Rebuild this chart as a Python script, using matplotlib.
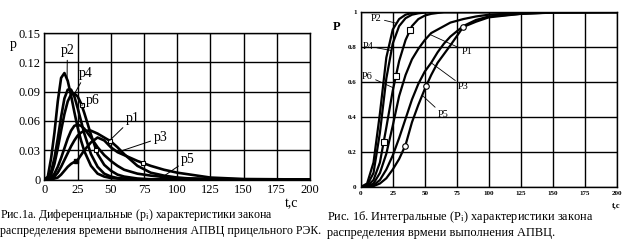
import numpy as np
import matplotlib
matplotlib.use("Agg")
import matplotlib.pyplot as plt

plt.rcParams['font.family'] = ['Liberation Serif', 'DejaVu Serif']
plt.rcParams['mathtext.fontset'] = 'stix'

# ---- left panel: differential characteristics p_i(t) ----
t_d = [0, 2.5, 5, 7.5, 10, 12.5, 15, 17.5, 20, 22.5, 25, 27.5, 30, 35, 40, 45,
       50, 55, 60, 70, 80, 90, 100, 110, 125, 150, 200]
p2 = [0, 0.003, 0.022, 0.048, 0.080, 0.104, 0.109, 0.101, 0.086, 0.069, 0.053, 0.040,
      0.029, 0.014, 0.006, 0.003, 0.0015, 0.001, 0.0005, 0.0002, 0, 0, 0, 0, 0, 0, 0]
p4 = [0, 0.001, 0.008, 0.022, 0.042, 0.064, 0.083, 0.092, 0.092, 0.085, 0.073, 0.060,
      0.047, 0.026, 0.013, 0.006, 0.003, 0.0015, 0.001, 0.0003, 0, 0, 0, 0, 0, 0, 0]
p6 = [0, 0.0005, 0.005, 0.016, 0.032, 0.050, 0.067, 0.080, 0.087, 0.088, 0.085, 0.078,
      0.068, 0.046, 0.026, 0.015, 0.009, 0.005, 0.003, 0.001, 0.0003, 0, 0, 0, 0, 0, 0]
p1 = [0, 0, 0.001, 0.003, 0.007, 0.013, 0.020, 0.027, 0.034, 0.040, 0.045, 0.048,
      0.050, 0.050, 0.047, 0.043, 0.039, 0.033, 0.026, 0.014, 0.007, 0.004, 0.002,
      0.001, 0.0005, 0.0001, 0]
p3 = [0, 0, 0, 0.001, 0.002, 0.005, 0.009, 0.013, 0.016, 0.018, 0.020, 0.025,
      0.030, 0.038, 0.043, 0.040, 0.033, 0.028, 0.025, 0.019, 0.014, 0.010, 0.007,
      0.005, 0.002, 0.0005, 0]
p5 = [0, 0, 0.002, 0.006, 0.013, 0.022, 0.032, 0.042, 0.050, 0.055, 0.056, 0.055,
      0.052, 0.043, 0.033, 0.025, 0.019, 0.014, 0.010, 0.006, 0.004, 0.0025, 0.0015,
      0.001, 0.0005, 0.0002, 0]

# ---- right panel: integral characteristics P_i(t) ----
t_i = [0, 5, 10, 15, 20, 25, 30, 35, 40, 45, 50, 55, 60, 65, 70, 80, 90, 100, 125, 150, 200]
P2 = [0, 0.02, 0.14, 0.42, 0.74, 0.90, 0.96, 0.985, 0.995, 1, 1, 1, 1, 1, 1, 1, 1, 1, 1, 1, 1]
P4 = [0, 0.01, 0.08, 0.31, 0.62, 0.82, 0.92, 0.965, 0.985, 0.993, 0.997, 1, 1, 1, 1,
      1, 1, 1, 1, 1, 1]
P6 = [0, 0.005, 0.04, 0.14, 0.34, 0.55, 0.72, 0.84, 0.92, 0.96, 0.98, 0.99, 0.995, 1, 1,
      1, 1, 1, 1, 1, 1]
P1 = [0, 0.003, 0.02, 0.08, 0.19, 0.35, 0.52, 0.64, 0.73, 0.79, 0.84, 0.88, 0.90, 0.92,
      0.94, 0.96, 0.975, 0.985, 0.995, 1, 1]
P3 = [0, 0.002, 0.01, 0.04, 0.10, 0.18, 0.28, 0.39, 0.50, 0.59, 0.66, 0.71, 0.77, 0.82,
      0.86, 0.92, 0.955, 0.975, 0.99, 0.998, 1]
P5 = [0, 0.001, 0.005, 0.02, 0.05, 0.10, 0.16, 0.24, 0.37, 0.47, 0.56, 0.64, 0.71, 0.76,
      0.81, 0.915, 0.945, 0.97, 0.99, 0.997, 1]

# marker times
p6_marks = [28, 39]
p1_marks = [49]
p3_marks = [74]
p3_fill = [24]
P6_marks = [18, 27.5, 38.5]
P5_marks = [34.6, 51, 80]

x_ticks = [0, 25, 50, 75, 100, 125, 150, 175, 200]
yd_ticks = [0, 0.03, 0.06, 0.09, 0.12, 0.15]
yi_ticks = [0, 0.2, 0.4, 0.6, 0.8, 1]

fig = plt.figure(figsize=(6.33, 2.45), dpi=100)

# left
ax1 = fig.add_axes([0.0703, 0.2673, 0.4194, 0.598])
for y in (p2, p4, p6, p1, p3, p5):
    ax1.plot(t_d, y, color='black', lw=1.9)
ax1.plot(p6_marks, np.interp(p6_marks, t_d, p6), 's', ms=3.5, mfc='white', mec='black', mew=0.8)
ax1.plot(p1_marks, np.interp(p1_marks, t_d, p1), 's', ms=3.5, mfc='white', mec='black', mew=0.8)
ax1.plot(p3_marks, np.interp(p3_marks, t_d, p3), 's', ms=3.5, mfc='white', mec='black', mew=0.8)
ax1.plot(p3_fill, np.interp(p3_fill, t_d, p3), 's', ms=3, color='black')
ax1.set_xlim(0, 200)
ax1.set_ylim(0, 0.15)
ax1.set_xticks(x_ticks)
ax1.set_yticks(yd_ticks)
ax1.set_yticklabels(['0', '0.03', '0.06', '0.09', '0.12', '0.15'])
ax1.grid(True, color='black', lw=1.0)
ax1.tick_params(length=0, labelsize=9, pad=3)
for s in ax1.spines.values():
    s.set_linewidth(1.0)
ax1.text(-0.13, 0.9, 'p', transform=ax1.transAxes, fontsize=10)
ax1.text(0.93, -0.165, 't,c', transform=ax1.transAxes, fontsize=10, ha='center', va='center')

left_labels = [('p2', p2, 17, 12, 0.128), ('p4', p4, 22, 26, 0.105),
               ('p6', p6, 28, 31, 0.077), ('p1', p1, 49, 61, 0.059),
               ('p3', p3, 55, 82, 0.039), ('p5', p5, 89, 103, 0.017)]
for name, y, t0, tx, ty in left_labels:
    ax1.annotate(name, xy=(t0, np.interp(t0, t_d, y)), xytext=(tx, ty), fontsize=10,
                 arrowprops=dict(arrowstyle='-', color='black', lw=0.7, shrinkA=0, shrinkB=0))

# right
ax2 = fig.add_axes([0.5698, 0.2367, 0.405, 0.714])
for y in (P2, P4, P6, P1, P3, P5):
    ax2.plot(t_i, y, color='black', lw=1.6)
ax2.plot(P6_marks, np.interp(P6_marks, t_i, P6), 's', ms=4, mfc='white', mec='black', mew=0.8)
ax2.plot(P5_marks, np.interp(P5_marks, t_i, P5), 'o', ms=4, mfc='white', mec='black', mew=0.8)
ax2.set_xlim(0, 200)
ax2.set_ylim(0, 1)
ax2.set_xticks(x_ticks)
ax2.set_yticks(yi_ticks)
ax2.set_yticklabels(['0', '0.2', '0.4', '0.6', '0.8', '1'])
ax2.grid(True, color='black', lw=1.0)
ax2.tick_params(length=0, labelsize=5, pad=3)
for lab in ax2.get_xticklabels() + ax2.get_yticklabels():
    lab.set_fontweight('bold')
for s in ax2.spines.values():
    s.set_linewidth(1.0)
ax2.text(-0.11, 0.9, 'P', transform=ax2.transAxes, fontsize=9, fontweight='bold')
ax2.text(0.98, -0.115, 't,c', transform=ax2.transAxes, fontsize=6, fontweight='bold')

right_labels = [('P2', P2, 28, 8, 0.95), ('P4', P4, 24, 2, 0.79),
                ('P6', P6, 25.5, 1, 0.62), ('P1', P1, 54, 79, 0.76),
                ('P3', P3, 55, 76, 0.56), ('P5', P5, 48, 60, 0.40)]
for name, y, t0, tx, ty in right_labels:
    ax2.annotate(name, xy=(t0, np.interp(t0, t_i, y)), xytext=(tx, ty), fontsize=7.5,
                 arrowprops=dict(arrowstyle='-', color='black', lw=0.6, shrinkA=0, shrinkB=0))

# captions, one text per line
fig.text(0.0, 0.122, 'Рис.1а. Диференциальные (p$_\\mathregular{i}$) характеристики закона',
         fontsize=8.6, va='center')
fig.text(0.0, 0.057, 'распределения времени выполнения АПВЦ прицельного РЭК.',
         fontsize=8.6, va='center')
fig.text(0.517, 0.113, 'Рис. 1б. Интегральные (P$_\\mathregular{i}$) характеристики закона',
         fontsize=8.9, va='center')
fig.text(0.517, 0.048, 'распределения врмени выполнения АПВЦ.',
         fontsize=8.9, va='center')

fig.savefig('out.png', dpi=100)
